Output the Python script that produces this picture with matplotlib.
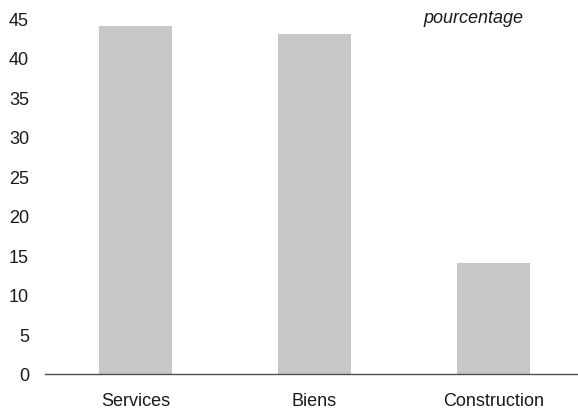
import matplotlib
matplotlib.use("Agg")
import matplotlib.pyplot as plt

categories = ["Services", "Biens", "Construction"]
values = [44.0, 43.0, 14.0]
yticks = [0, 5, 10, 15, 20, 25, 30, 35, 40, 45]

plt.rcParams['font.family'] = ['Liberation Sans', 'DejaVu Sans']

fig = plt.figure(figsize=(5.78, 4.10), dpi=100)
ax = fig.add_axes([0.0779, 0.0854, 0.922, 0.868])

x = range(len(categories))
ax.bar(x, values, width=0.408, color="#c6c7c9")

ax.set_xlim(-0.506, 2.472)
ax.set_ylim(0, 45)
ax.set_yticks(yticks)
ax.set_xticks(list(x))
ax.set_xticklabels(categories)

for s in ["top", "right", "left"]:
    ax.spines[s].set_visible(False)
ax.spines["bottom"].set_color("#4d4d4d")
ax.spines["bottom"].set_linewidth(1.0)

ax.tick_params(axis="y", length=0, pad=11.5, labelsize=13, labelcolor="#1a1a1a")
ax.tick_params(axis="x", length=0, pad=13, labelsize=13, labelcolor="#1a1a1a")

ax.text(0.803, 1.002, "pourcentage", transform=ax.transAxes, fontsize=13,
        style="italic", color="#1a1a1a", ha="center", va="center")

fig.savefig("out.png", dpi=100)
plt.close()
